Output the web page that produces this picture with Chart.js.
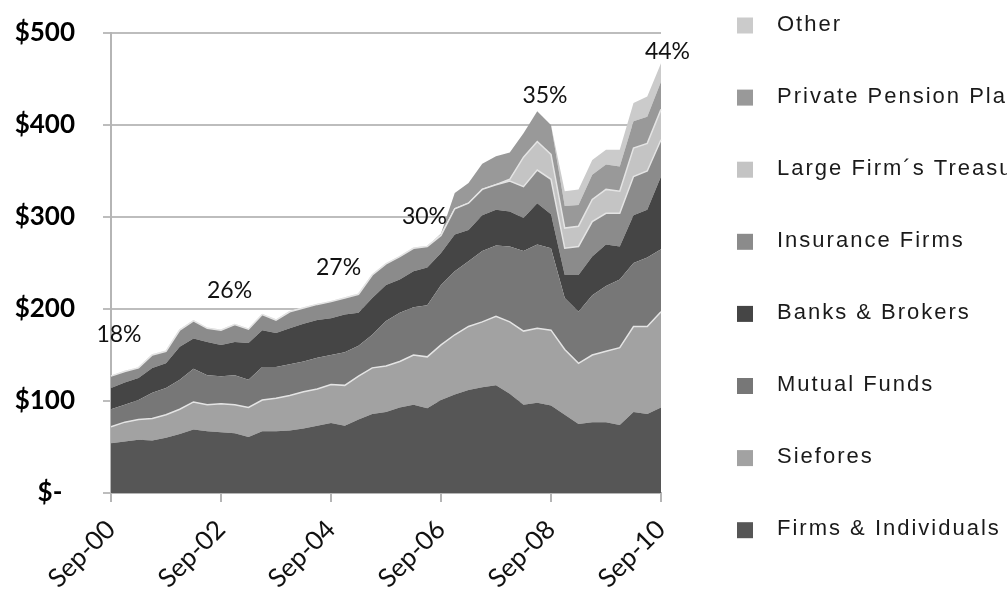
<!DOCTYPE html>
<html>
<head>
<meta charset="utf-8">
<script src="https://cdn.jsdelivr.net/npm/chart.js@4"></script>
<style>
  html, body { margin: 0; padding: 0; background: #fff; }
  #wrap { width: 1007px; height: 599px; }
</style>
</head>
<body>
<div id="wrap"><canvas id="myChart" width="1007" height="599"></canvas></div>
<script>
const quarters = [
    'Sep-00', 'Dec-00', 'Mar-01', 'Jun-01', 'Sep-01', 'Dec-01', 'Mar-02', 'Jun-02',
    'Sep-02', 'Dec-02', 'Mar-03', 'Jun-03', 'Sep-03', 'Dec-03', 'Mar-04', 'Jun-04',
    'Sep-04', 'Dec-04', 'Mar-05', 'Jun-05', 'Sep-05', 'Dec-05', 'Mar-06', 'Jun-06',
    'Sep-06', 'Dec-06', 'Mar-07', 'Jun-07', 'Sep-07', 'Dec-07', 'Mar-08', 'Jun-08',
    'Sep-08', 'Dec-08', 'Mar-09', 'Jun-09', 'Sep-09', 'Dec-09', 'Mar-10', 'Jun-10',
    'Sep-10'
];

// billions of dollars, per holder type
const firms = [54, 56, 58, 57, 60, 64, 69, 67, 66, 65, 61, 67, 67, 68, 70, 73, 76, 73, 80, 86,
    88, 93, 96, 92, 101, 107, 112, 115, 117, 108, 96, 98, 95, 85, 75, 77, 77, 74, 88, 86, 93];
const siefores = [18, 21, 22, 24, 25, 27, 30, 29, 31, 31, 32, 34, 36, 38, 40, 40, 42, 44, 47, 50,
    50, 50, 54, 56, 60, 65, 69, 71, 75, 78, 80, 81, 82, 71, 66, 73, 77, 84, 93, 95, 104];
const mutualFunds = [19, 19, 21, 28, 29, 32, 36, 32, 30, 32, 30, 36, 34, 34, 33, 34, 32, 36, 33, 36,
    49, 53, 52, 56, 65, 69, 71, 77, 77, 82, 87, 91, 89, 56, 56, 65, 71, 74, 69, 75, 68];
const banks = [23, 24, 24, 27, 27, 36, 33, 36, 34, 36, 40, 40, 37, 39, 41, 41, 40, 41, 36, 40,
    39, 36, 39, 41, 35, 40, 34, 39, 39, 38, 36, 45, 37, 25, 40, 42, 45, 36, 52, 52, 79];
const insurance = [13, 12, 11, 14, 13, 18, 19, 15, 16, 19, 15, 17, 14, 18, 17, 17, 18, 18, 20, 25,
    23, 25, 25, 23, 19, 28, 29, 28, 27, 33, 34, 36, 38, 29, 31, 38, 34, 36, 42, 42, 40];
const treasuries = [0, 0, 0, 0, 0, 0, 0, 0, 0, 0, 0, 0, 0, 0, 0, 0, 0, 0, 0, 0,
    0, 0, 0, 0, 0, 0, 0, 0, 0, 2, 32, 31, 27, 22, 22, 24, 26, 24, 31, 30, 33];
const pensionPlans = [0, 0, 0, 0, 0, 0, 0, 0, 0, 0, 0, 0, 0, 0, 0, 0, 0, 0, 0, 0,
    0, 0, 0, 0, 2, 17, 22, 28, 31, 29, 26, 33, 32, 24, 23, 27, 27, 27, 29, 29, 30];
const other = [0, 0, 0, 0, 0, 0, 0, 0, 0, 0, 0, 0, 0, 0, 0, 0, 0, 0, 0, 0,
    0, 0, 0, 0, 0, 0, 0, 0, 0, 0, 0, 0, 0, 16, 17, 16, 16, 18, 20, 22, 20];

const seriesNames = ['Firms & Individuals', 'Siefores', 'Mutual Funds', 'Banks & Brokers',
    'Insurance Firms', 'Large Firm´s Treasuries', 'Private Pension Plans', 'Other'];
const seriesData = [firms, siefores, mutualFunds, banks, insurance, treasuries, pensionPlans, other];
const seriesColors = ['#565656', '#a2a2a2', '#777777', '#454545', '#8b8b8b', '#c4c4c4', '#999999', '#cbcbcb'];
const edgeColors = ['#565656', '#e4e4e4', '#777777', '#454545', '#e4e4e4', '#e4e4e4', '#999999', '#cbcbcb'];
const edgeWidths = [0, 1.5, 0, 0, 1.5, 1.5, 0, 0];

// share labels written over the stack
const pctText = ['18%', '26%', '27%', '30%', '35%', '44%'];
const pctAtQuarter = [0.58, 8.62, 16.55, 22.8, 31.56, 40.47];
const pctAtValue = [172, 220, 245, 300, 432, 480];

const pctLabels = {
    id: 'pctLabels',
    afterDatasetsDraw(chart) {
        const {ctx, scales: {x, y}} = chart;
        ctx.save();
        ctx.font = '23px Lato, sans-serif';
        ctx.fillStyle = '#111';
        ctx.textAlign = 'center';
        ctx.textBaseline = 'middle';
        pctText.forEach((t, i) => {
            ctx.fillText(t, x.getPixelForValue(pctAtQuarter[i]), y.getPixelForValue(pctAtValue[i]));
        });
        ctx.restore();
    }
};

// legend on the right, top item = last series
const sideLegend = {
    id: 'sideLegend',
    afterDraw(chart) {
        const ctx = chart.ctx;
        const sets = chart.data.datasets;
        ctx.save();
        ctx.font = '22px "Liberation Sans", Arial, sans-serif';
        ctx.letterSpacing = '2px';
        ctx.textBaseline = 'middle';
        for (let k = 0; k < sets.length; k++) {
            const ds = sets[sets.length - 1 - k];
            const cy = 25.5 + k * 72.1;
            ctx.fillStyle = ds.backgroundColor;
            ctx.fillRect(737, cy - 8, 16, 16);
            ctx.fillStyle = '#1a1a1a';
            ctx.fillText(ds.label, 777, cy - 1);
        }
        ctx.restore();
    }
};

const myChart = new Chart(document.getElementById('myChart'), {
    type: 'line',
    data: {
        labels: quarters,
        datasets: seriesNames.map((name, i) => ({
            label: name,
            data: seriesData[i],
            backgroundColor: seriesColors[i],
            borderColor: edgeColors[i],
            borderWidth: edgeWidths[i],
            fill: i === 0 ? 'origin' : '-1',
            pointRadius: 0,
            tension: 0
        }))
    },
    options: {
        responsive: false,
        animation: false,
        layout: {padding: {top: 33, right: 346, left: 0, bottom: 0}},
        plugins: {legend: {display: false}, tooltip: {enabled: false}},
        scales: {
            x: {
                offset: false,
                grid: {drawOnChartArea: false, tickLength: 9, color: '#b5b5b5', lineWidth: 2},
                border: {color: '#b5b5b5', width: 2},
                ticks: {
                    autoSkip: false, minRotation: 45, maxRotation: 45, padding: 12,
                    color: '#111', font: {family: 'Lato', size: 26}
                },
                afterBuildTicks: s => { s.ticks = s.ticks.filter(t => t.value % 8 === 0); },
                afterFit: s => {
                    s.height = 106;
                    s.paddingTop = 0;
                    s.paddingBottom = 0;
                }
            },
            y: {
                stacked: true,
                min: 0,
                max: 500,
                ticks: {
                    stepSize: 100, padding: 28, color: '#000',
                    font: {family: 'Lato', size: 26, weight: 'bold'},
                    callback: v => v === 0 ? '$-  ' : '$' + v
                },
                grid: {color: '#bdbdbd', lineWidth: 2, tickLength: 8},
                border: {color: '#b5b5b5', width: 2},
                afterFit: s => {
                    s.width = 111;
                    s.paddingTop = 0;
                    s.paddingBottom = 0;
                }
            }
        }
    },
    plugins: [pctLabels, sideLegend]
});
</script>
</body>
</html>
